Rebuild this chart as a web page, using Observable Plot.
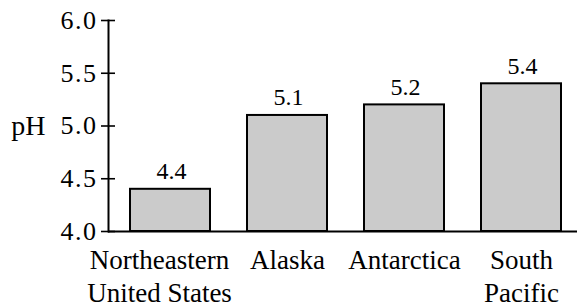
<!DOCTYPE html>
<html>
<head>
<meta charset="utf-8">
<script src="https://cdn.jsdelivr.net/npm/d3@7"></script>
<script src="https://cdn.jsdelivr.net/npm/@observablehq/plot@0.6"></script>
<style>
  html, body { margin: 0; padding: 0; background: #fff; }
  svg text { font-family: 'Liberation Serif', 'Times New Roman', serif !important; font-variant: normal !important; }
  g[aria-label="y-axis tick label"] text { letter-spacing: 1.5px; }
  g[aria-label="value labels"] text { letter-spacing: 1.5px; }
</style>
</head>
<body>
<div id="chart"></div>
<script>
const categories = ["Northeastern\nUnited States", "Alaska", "Antarctica", "South\nPacific"];
const phValues = [4.4, 5.1, 5.2, 5.4];
const yTicks = [4.0, 4.5, 5.0, 5.5, 6.0];
const axisLabel = "pH";

const data = categories.map((c, i) => ({cat: c, ph: phValues[i]}));

const chart = Plot.plot({
  width: 577,
  height: 308,
  marginTop: 20,
  marginBottom: 77,
  marginLeft: 108,
  marginRight: 0,
  style: {fontFamily: "'Liberation Serif', 'Times New Roman', serif", color: "#000", background: "#fff"},
  x: {domain: categories, range: [108, 583], paddingInner: 0.314, paddingOuter: 0.17, axis: null},
  y: {domain: [4, 6], axis: null},
  marks: [
    Plot.barY(data, {x: "cat", y1: 4, y2: "ph", fill: "#cbcbcb", stroke: "#000", strokeWidth: 2}),
    Plot.ruleY([4], {stroke: "#000", strokeWidth: 2}),
    Plot.frame({anchor: "left", stroke: "#000", strokeWidth: 2}),
    Plot.axisY({ticks: yTicks, tickSize: 14, dx: 7, tickPadding: 4, tickFormat: d => d.toFixed(1), fontSize: 26, fontVariant: "normal", strokeWidth: 1.6, label: null}),
    Plot.text(data, {ariaLabel: "value labels", x: "cat", y: "ph", text: d => d.ph.toFixed(1), lineAnchor: "bottom", dy: -10, dx: 1, fontSize: 24, fontVariant: "normal"}),
    Plot.text(data.slice(0, 1), {x: "cat", text: "cat", frameAnchor: "bottom", lineAnchor: "top", dy: 14, dx: -11, fontSize: 27, lineHeight: 1.22}),
    Plot.text(data.slice(1), {x: "cat", text: "cat", frameAnchor: "bottom", lineAnchor: "top", dy: 14, fontSize: 27, lineHeight: 1.22}),
    Plot.text([axisLabel], {frameAnchor: "left", y: [5], text: d => d, textAnchor: "end", dx: -63, fontSize: 28})
  ]
});
document.getElementById("chart").appendChild(chart);
</script>
</body>
</html>
